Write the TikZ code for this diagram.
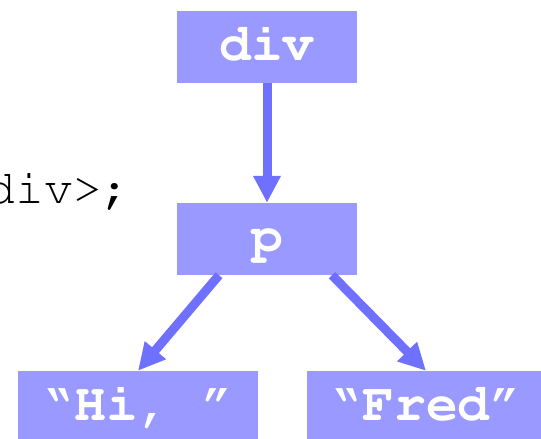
\documentclass[tikz,border=0pt]{standalone}
\usepackage[T1]{fontenc}
\usepackage{courier}
\usetikzlibrary{arrows.meta}
\definecolor{caixa}{RGB}{153,153,255}
\definecolor{seta}{RGB}{112,112,255}
\tikzset{
    elem/.style={fill=caixa, text=white, inner xsep=0pt, inner ysep=0pt,
        minimum height=72pt, text height=50pt, text depth=22pt,
        font=\fontsize{53}{60}\selectfont\ttfamily\bfseries},
    liga/.style={draw=seta, line width=9pt, -{Triangle[length=27pt,width=26pt]}}
}
\begin{document}
\begin{tikzpicture}[x=1pt,y=1pt]
    \useasboundingbox (0,0) rectangle (541,439);

    % Código cortado à esquerda
    \node[anchor=base west, inner sep=0pt, font=\fontsize{48}{56}\selectfont\ttfamily] (codigo) at (-13.5,235) {div>;};

    % Nós da árvore
    \node[elem, minimum width=180pt] (div) at (267,392) {div};
    \node[elem, minimum width=180pt] (p) at (267,200) {p};
    \node[elem, minimum width=240pt] (hi) at (138,32) {\textquotedblleft Hi, \textquotedblright};
    \node[elem, minimum width=238pt] (fred) at (426,32) {\textquotedblleft Fred\textquotedblright};

    % Ligações
    \draw[liga] (div.south) -- (p.north);
    \draw[liga] ([xshift=-48pt]p.south) -- (hi.north);
    \draw[liga] ([xshift=65pt]p.south) -- (fred.north);

\end{tikzpicture}
\end{document}
